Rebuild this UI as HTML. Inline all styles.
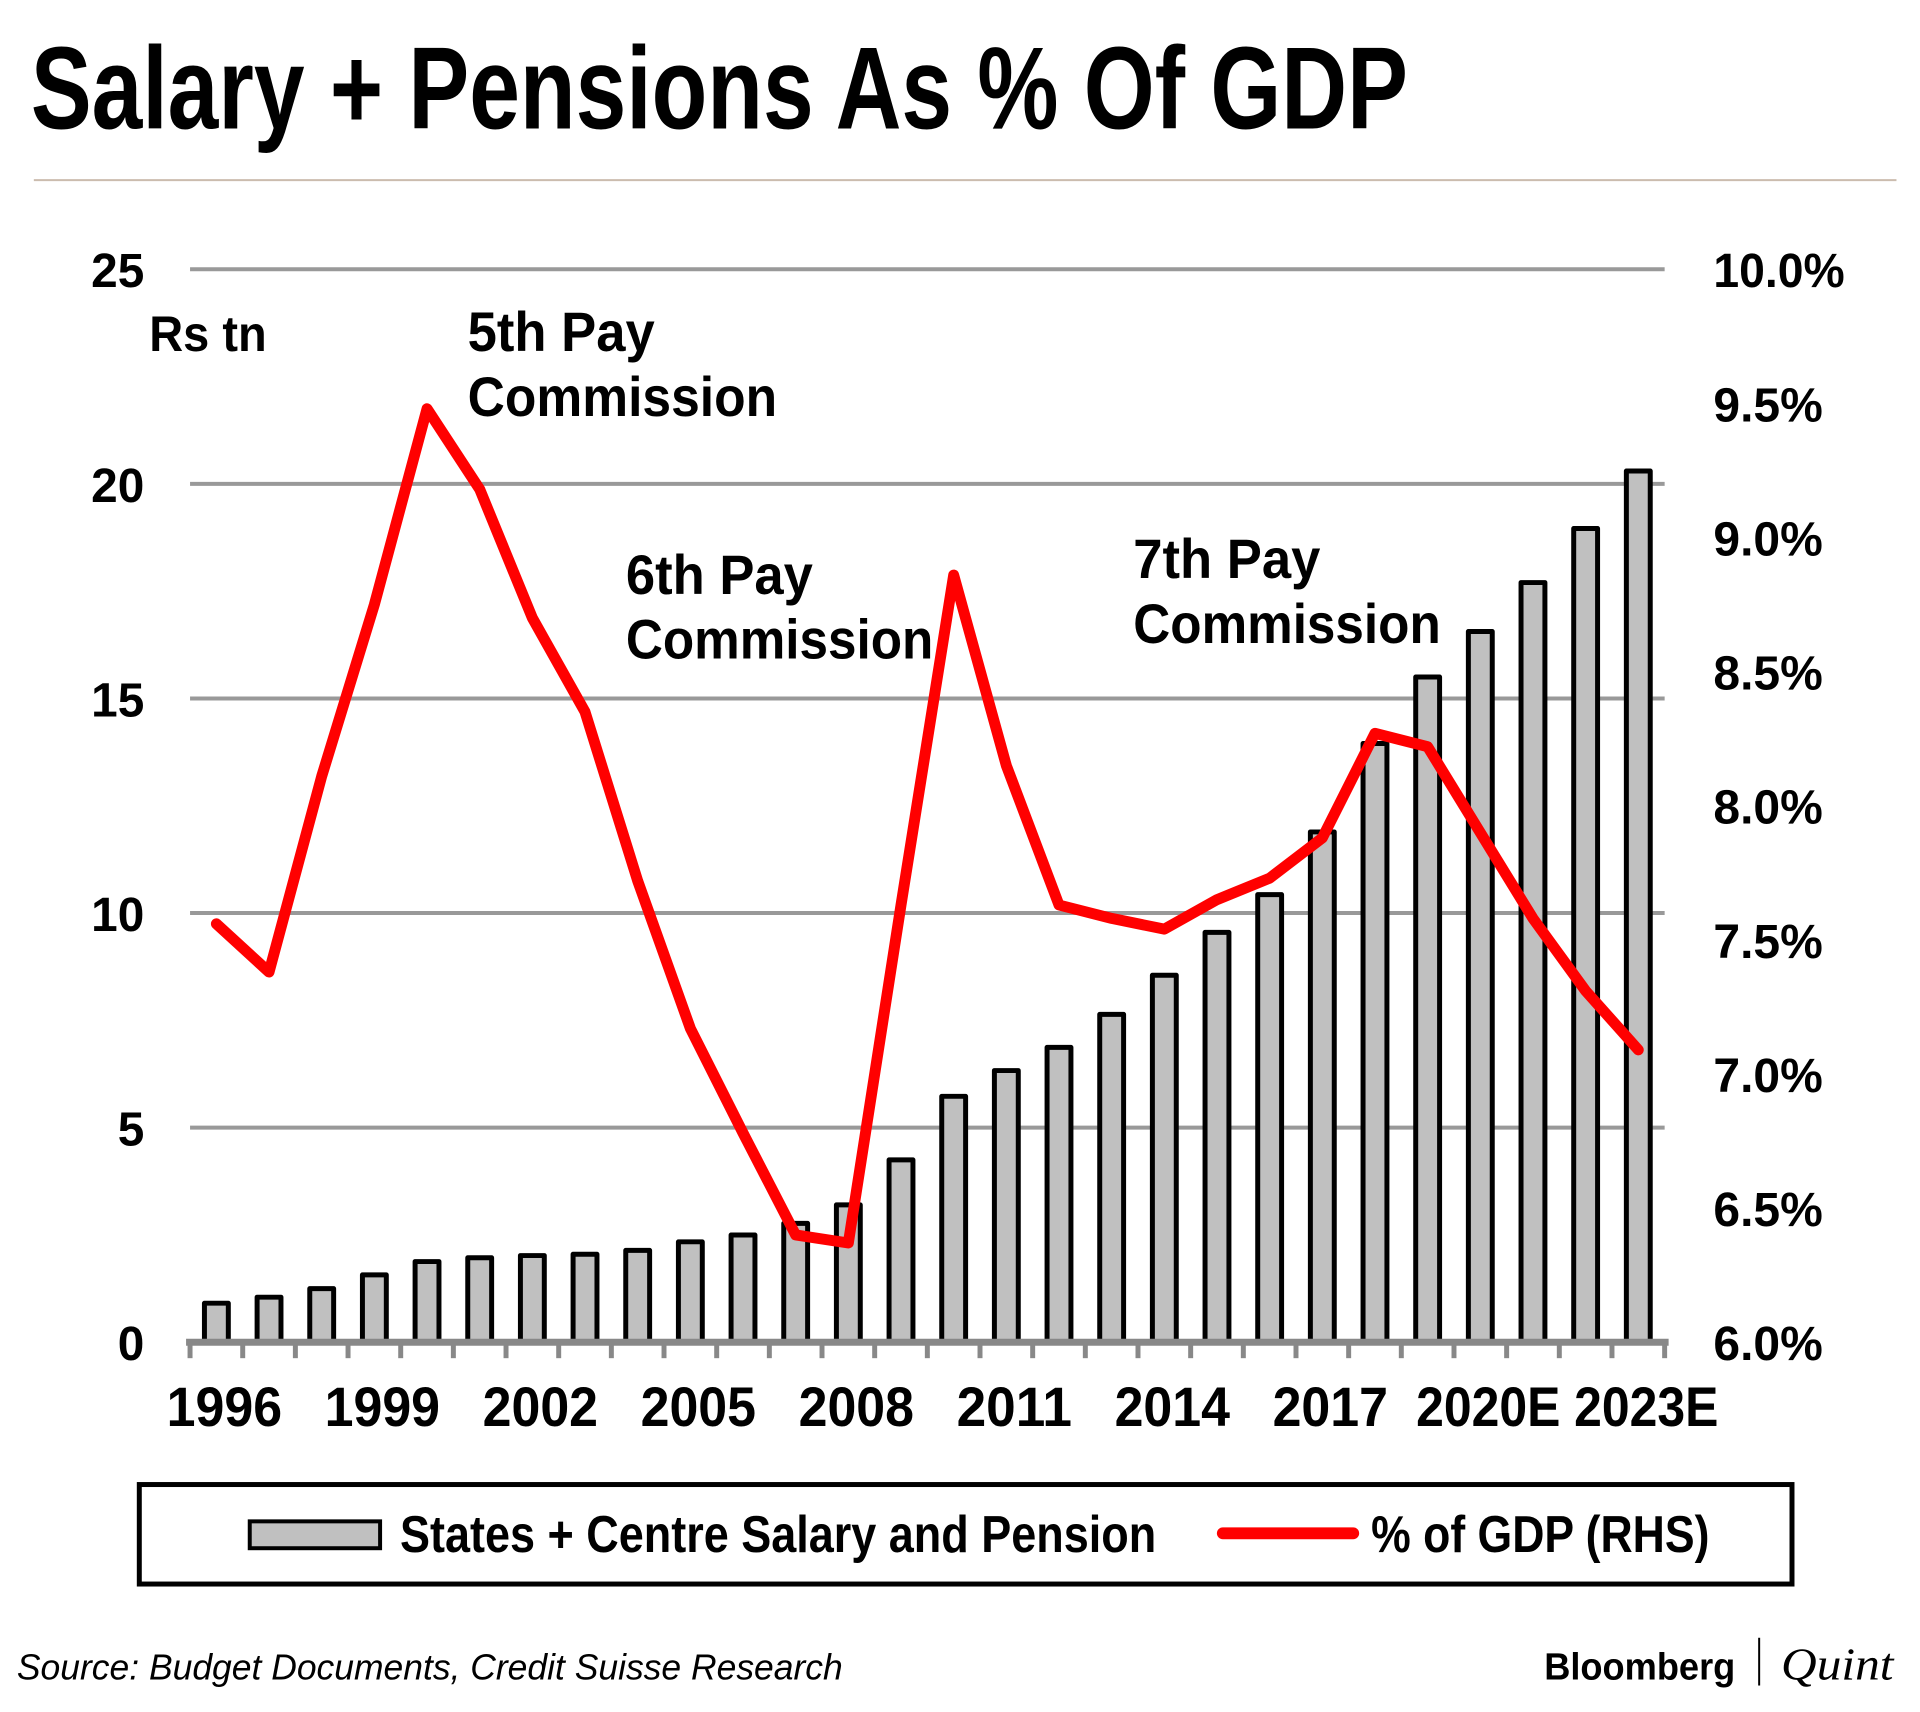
<!DOCTYPE html>
<html><head><meta charset="utf-8"><style>
html,body{margin:0;padding:0;background:#fff;width:1920px;height:1712px;overflow:hidden}
svg{display:block}
text{font-family:"Liberation Sans",sans-serif;font-weight:bold;fill:#000}
</style></head><body>
<svg id="chart" width="1920" height="1712" viewBox="0 0 1920 1712" xmlns="http://www.w3.org/2000/svg">
<g transform="scale(0.995)">
<text x="31" y="129" font-size="118" textLength="1384" lengthAdjust="spacingAndGlyphs">Salary + Pensions As % Of GDP</text>
<line x1="34" y1="181" x2="1906" y2="181" stroke="#cbbcae" stroke-width="2"/>
<g id="grid"></g><g id="bars"></g><g id="axis"></g><g id="line"></g><g id="labels"></g>
<text x="150" y="353" font-size="50" textLength="118" lengthAdjust="spacingAndGlyphs">Rs tn</text>
<text x="470" y="353" font-size="56" textLength="188" lengthAdjust="spacingAndGlyphs">5th Pay</text>
<text x="470" y="418" font-size="56" textLength="311" lengthAdjust="spacingAndGlyphs">Commission</text>
<text x="629" y="597" font-size="56" textLength="188" lengthAdjust="spacingAndGlyphs">6th Pay</text>
<text x="629" y="662" font-size="56" textLength="309" lengthAdjust="spacingAndGlyphs">Commission</text>
<text x="1139" y="581" font-size="56" textLength="188" lengthAdjust="spacingAndGlyphs">7th Pay</text>
<text x="1139" y="646" font-size="56" textLength="309" lengthAdjust="spacingAndGlyphs">Commission</text>
<g>
<rect x="140" y="1492" width="1661" height="100" fill="none" stroke="#000" stroke-width="5"/>
<rect x="251" y="1529" width="131" height="27" fill="#c0c0c0" stroke="#000" stroke-width="4"/>
<text x="402" y="1560" font-size="52" textLength="760" lengthAdjust="spacingAndGlyphs">States + Centre Salary and Pension</text>
<line x1="1229" y1="1541" x2="1360" y2="1541" stroke="#ff0000" stroke-width="12" stroke-linecap="round"/>
<text x="1378" y="1560" font-size="52" textLength="340" lengthAdjust="spacingAndGlyphs">% of GDP (RHS)</text>
</g>
<text x="17" y="1688" font-size="36" font-style="italic" textLength="830" lengthAdjust="spacingAndGlyphs" style="font-weight:normal">Source: Budget Documents, Credit Suisse Research</text>
<text x="1552" y="1688" font-size="38" textLength="192" lengthAdjust="spacingAndGlyphs">Bloomberg</text>
<line x1="1768" y1="1646" x2="1768" y2="1694" stroke="#000" stroke-width="2"/>
<text x="1790" y="1688" font-size="46" font-style="italic" textLength="113" lengthAdjust="spacingAndGlyphs" style="font-family:'Liberation Serif',serif;font-weight:normal">Quint</text>
</g>
</svg>
<script>
const categories=["1996","1997","1998","1999","2000","2001","2002","2003","2004","2005","2006","2007","2008","2009","2010","2011","2012","2013","2014","2015","2016","2017","2018","2019","2020E","2021E","2022E","2023E"];
const salaryValues=[0.91,1.05,1.25,1.57,1.88,1.97,2.02,2.05,2.14,2.34,2.5,2.77,3.2,4.25,5.73,6.33,6.87,7.64,8.55,9.55,10.43,11.89,13.95,15.5,16.56,17.7,18.96,20.3];
const gdpPctValues=[7.56,7.38,8.11,8.75,9.48,9.18,8.70,8.35,7.72,7.17,6.78,6.40,6.37,7.63,8.86,8.15,7.63,7.58,7.54,7.65,7.73,7.88,8.27,8.22,7.90,7.58,7.31,7.09];
const leftTicks=[0,5,10,15,20,25];
const rightTicks=[6.0,6.5,7.0,7.5,8.0,8.5,9.0,9.5,10.0];
const xLabelIdx=[0,3,6,9,12,15,18,21,24,27];
const xLabels=["1996","1999","2002","2005","2008","2011","2014","2017","2020E","2023E"];

const NS="http://www.w3.org/2000/svg";
const X0=191,X1=1673,Y0=1349,YT=270.6;
const step=(X1-X0)/categories.length;
const xC=i=>X0+(i+0.5)*step;
const yL=v=>Y0-(v/25)*(Y0-YT);
const yR=v=>Y0-((v-6)/4)*(Y0-YT);
function mk(tag,attrs,parent){const e=document.createElementNS(NS,tag);for(const k in attrs)e.setAttribute(k,attrs[k]);parent.appendChild(e);return e;}
const grid=document.getElementById('grid'),bars=document.getElementById('bars'),axis=document.getElementById('axis'),lineG=document.getElementById('line'),labels=document.getElementById('labels');

leftTicks.forEach(t=>{
  if(t>0){const g=mk('line',{x1:X0,x2:X1,y1:yL(t),y2:yL(t),stroke:'#999',"stroke-width":4},grid);
  
  }
  const tx=mk('text',{x:145,y:yL(t)+18,"font-size":48,"text-anchor":"end"},labels);
  tx.textContent=t;
  
  
});
rightTicks.forEach(t=>{
  const s=t.toFixed(1)+'%';
  const tx=mk('text',{x:1722,y:yR(t)+18,"font-size":48,textLength:s.length===5?132:110,lengthAdjust:"spacingAndGlyphs"},labels);
  tx.textContent=s;
  
  
});
salaryValues.forEach((v,i)=>{
  const bw=24;
  const r=mk('rect',{x:xC(i)-bw/2,y:yL(v),width:bw,height:Y0-yL(v),fill:'#c0c0c0',stroke:'#000',"stroke-width":5,"stroke-linejoin":"round"},bars);
  
  
});
const ax=mk('line',{x1:X0-4,x2:X1+4,y1:Y0,y2:Y0,stroke:'#888',"stroke-width":7},axis);


for(let i=0;i<=categories.length;i++){
  const tk=mk('line',{x1:X0+i*step,x2:X0+i*step,y1:Y0,y2:Y0+16,stroke:'#888',"stroke-width":5},axis);
  
  
}
xLabelIdx.forEach((idx,k)=>{
  const s=xLabels[k];
  const tx=mk('text',{x:xC(idx)+8,y:1433,"font-size":56,"text-anchor":"middle",textLength:s.length>4?145:116,lengthAdjust:"spacingAndGlyphs"},labels);
  tx.textContent=s;
  
  
});
const pts=gdpPctValues.map((v,i)=>xC(i)+','+yR(v)).join(' ');
const pl=mk('polyline',{points:pts,fill:'none',stroke:'#ff0000',"stroke-width":11,"stroke-linejoin":"round","stroke-linecap":"round"},lineG);


</script>
</body></html>
